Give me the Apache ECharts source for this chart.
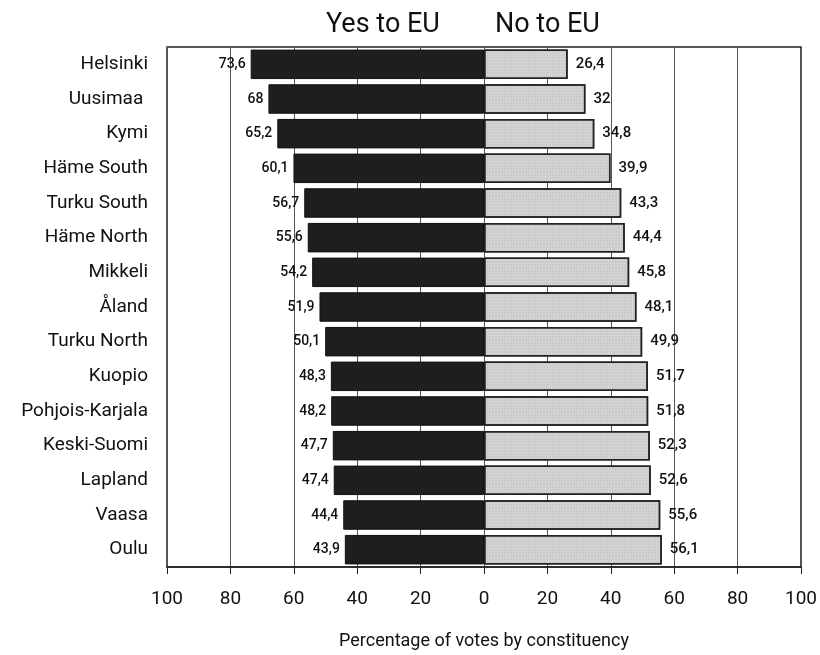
<!DOCTYPE html>
<html><head><meta charset="utf-8">
<script src="https://cdn.jsdelivr.net/npm/echarts@6/dist/echarts.min.js"></script>
<style>html,body{margin:0;padding:0;background:#fff}#c{width:820px;height:655px}</style>
</head><body><div id="c"></div>
<script>
const categories = ["Helsinki","Uusimaa ","Kymi","Häme South","Turku South","Häme North","Mikkeli","Åland","Turku North","Kuopio","Pohjois-Karjala","Keski-Suomi","Lapland","Vaasa","Oulu"];
const yesVotes = [73.6,68,65.2,60.1,56.7,55.6,54.2,51.9,50.1,48.3,48.2,47.7,47.4,44.4,43.9];
const noVotes = [26.4,32,34.8,39.9,43.3,44.4,45.8,48.1,49.9,51.7,51.8,52.3,52.6,55.6,56.1];
const xTicks = [-100,-80,-60,-40,-20,0,20,40,60,80,100];

const FONT = '"Liberation Sans Narrow","Roboto","Liberation Sans",sans-serif';
const fmt = v => String(Math.abs(v)).replace('.', ',');

const chart = echarts.init(document.getElementById('c'));
chart.setOption({
  animation: false,
  textStyle: {fontFamily: FONT, color: '#111'},
  title: [
    {text: 'Yes to EU', left: 321, top: 7, textStyle: {fontFamily: FONT, fontSize: 27, fontWeight: 'normal', color: '#111'}},
    {text: 'No to EU', left: 490, top: 7, textStyle: {fontFamily: FONT, fontSize: 27, fontWeight: 'normal', color: '#111'}}
  ],
  grid: {left: 167, right: 15, top: 47, bottom: 85, show: true, borderColor: '#222', borderWidth: 1.5},
  xAxis: {
    type: 'value', min: -100, max: 100, interval: 20,
    name: 'Percentage of votes by constituency', nameLocation: 'middle', nameGap: 65,
    nameTextStyle: {fontFamily: FONT, fontSize: 18, color: '#111'},
    axisLine: {show: true, lineStyle: {color: '#222', width: 1.5}},
    axisTick: {show: true, length: 7, lineStyle: {color: '#222'}},
    axisLabel: {fontFamily: FONT, fontSize: 19, color: '#111', margin: 23, formatter: v => String(Math.abs(v))},
    splitLine: {show: true, lineStyle: {color: '#555', width: 1}}
  },
  yAxis: {
    type: 'category', data: categories, inverse: true,
    axisLine: {show: false}, axisTick: {show: false},
    axisLabel: {fontFamily: FONT, fontSize: 19, color: '#111', margin: 19}
  },
  series: [
    {
      name: 'Yes', type: 'bar', barWidth: '85%', barGap: '-100%',
      data: yesVotes.map(v => -v),
      itemStyle: {color: '#1e1e1e', borderColor: '#111', borderWidth: 1},
      label: {show: true, position: 'left', distance: 5, fontFamily: FONT, fontSize: 14, fontWeight: 500, color: '#111', formatter: p => fmt(p.value)}
    },
    {
      name: 'No', type: 'bar', barWidth: '85%', barGap: '-100%',
      data: noVotes,
      itemStyle: {color: '#d4d4d4', borderColor: '#222', borderWidth: 1.5,
        decal: {symbol: 'rect', symbolSize: 0.5, dashArrayX: [2, 1], dashArrayY: [2, 1], color: 'rgba(110,110,110,0.35)'}},
      label: {show: true, position: 'right', distance: 8, fontFamily: FONT, fontSize: 15, fontWeight: 500, color: '#111', formatter: p => fmt(p.value)}
    }
  ]
});
</script></body></html>
